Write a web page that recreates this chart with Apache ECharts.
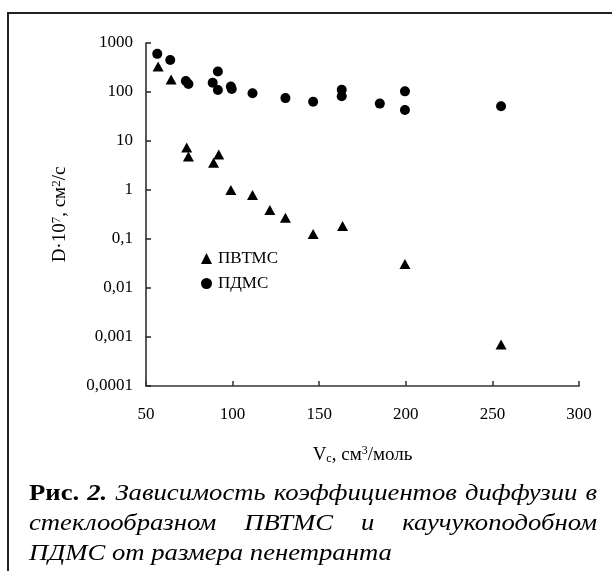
<!DOCTYPE html>
<html>
<head>
<meta charset="utf-8">
<script src="https://cdn.jsdelivr.net/npm/echarts@6/dist/echarts.min.js"></script>
<style>
  html, body { margin: 0; padding: 0; background: #fff; }
  #chart { width: 612px; height: 571px; }
</style>
</head>
<body>
<div id="chart"></div>
<script>
// ПВТМС (glassy) — V_c, cm3/mol and D*10^7, cm2/s
const pvtmsV = [57, 64.5, 73.5, 74.5, 89, 92, 99, 111.5, 121.5, 130.5, 146.5, 163.5, 199.5, 255]
const pvtmsD = [330, 180, 7.4, 4.8, 3.6, 5.3, 1.0, 0.79, 0.39, 0.27, 0.126, 0.184, 0.031, 0.0007]

// ПДМС (rubbery)
const pdmsV = [56.5, 64, 73, 74.5, 88.5, 91.5, 91.5, 99, 99.5, 111.5, 130.5, 146.5, 163, 163, 185, 199.5, 199.5, 255]
const pdmsD = [600, 450, 167, 146, 155, 263, 110, 130, 115, 94, 75, 63, 111, 82, 58, 103, 43, 51]

const xTicks = [50, 300, 50]            // min, max, step
const yTicks = [0.0001, 1000]           // log axis range

const serif = '"Liberation Serif", "Times New Roman", serif'

const chart = echarts.init(document.getElementById('chart'))

// caption lines, justified like the printed figure
const measureCtx = document.createElement('canvas').getContext('2d')
const capSize = 23
const capStretch = 1.16   // printed caption is a little wider than the font
const textW = (s, font) => { measureCtx.font = font; return measureCtx.measureText(s).width * capStretch }
const fIt = 'italic ' + capSize + 'px ' + serif
const fB = 'bold ' + capSize + 'px ' + serif
const fBI = 'italic bold ' + capSize + 'px ' + serif
const capLines = [
  { y: 494, justify: true, words: [['Рис.', fB], ['2.', fBI], ['Зависимость', fIt], ['коэффициентов', fIt], ['диффузии', fIt], ['в', fIt]] },
  { y: 524, justify: true, words: [['стеклообразном', fIt], ['ПВТМС', fIt], ['и', fIt], ['каучукоподобном', fIt]] },
  { y: 554, justify: false, words: [['ПДМС', fIt], ['от', fIt], ['размера', fIt], ['пенетранта', fIt]] }
]
const capLeft = 29, capRight = 597
const capGraphics = []
capLines.forEach(line => {
  const widths = line.words.map(w => textW(w[0], w[1]))
  const total = widths.reduce((a, b) => a + b, 0)
  const gap = line.justify ? (capRight - capLeft - total) / (line.words.length - 1) : textW(' ', fIt)
  let x = capLeft
  line.words.forEach((w, i) => {
    capGraphics.push({
      type: 'text', x: x, y: line.y, scaleX: capStretch,
      style: { text: w[0], font: w[1], fill: '#000', verticalAlign: 'middle' }
    })
    x += widths[i] + gap
  })
})

const option = {
  backgroundColor: '#fff',
  animation: false,
  textStyle: { fontFamily: serif, color: '#000' },
  grid: { left: 146, top: 43, width: 433, height: 343, containLabel: false },
  legend: {
    orient: 'vertical', left: 196, top: 245, itemWidth: 11, itemHeight: 11, itemGap: 8,
    textStyle: { fontFamily: serif, fontSize: 17, color: '#000', padding: [0, 0, 0, 1] },
    data: [{ name: 'ПВТМС', icon: 'triangle' }, { name: 'ПДМС', icon: 'circle' }]
  },
  xAxis: {
    type: 'value', min: xTicks[0], max: xTicks[1], interval: xTicks[2],
    name: '{a|V}{sub|c}{a|, см}{sup|3}{a|/моль}', nameLocation: 'middle', nameGap: 59,
    nameTextStyle: {
      rich: {
        a: { fontFamily: serif, fontSize: 19, color: '#000' },
        sub: { fontFamily: serif, fontSize: 12, color: '#000', verticalAlign: 'bottom', padding: [7, 0, 0, 0] },
        sup: { fontFamily: serif, fontSize: 12, color: '#000', verticalAlign: 'top', padding: [0, 0, 8, 0] }
      }
    },
    axisLine: { lineStyle: { color: '#666', width: 2 } },
    axisTick: { inside: true, length: 5, lineStyle: { color: '#333', width: 1.5 } },
    axisLabel: { fontFamily: serif, fontSize: 17, color: '#000', margin: 20 },
    splitLine: { show: false }
  },
  yAxis: {
    type: 'log', logBase: 10, min: yTicks[0], max: yTicks[1],
    name: '{a|D·10}{sup|7}{a|, см}{sup|2}{a|/с}', nameLocation: 'middle', nameGap: 75, nameRotate: 90,
    nameTextStyle: {
      rich: {
        a: { fontFamily: serif, fontSize: 19, color: '#000' },
        sup: { fontFamily: serif, fontSize: 13, color: '#000', verticalAlign: 'top', padding: [0, 0, 8, 0] }
      }
    },
    axisLine: { onZero: false, lineStyle: { color: '#222', width: 1.5 } },
    axisTick: { inside: true, length: 5, lineStyle: { color: '#222', width: 1.5 } },
    axisLabel: { fontFamily: serif, fontSize: 17, color: '#000', margin: 13, formatter: v => String(v).replace('.', ',') },
    splitLine: { show: false }
  },
  series: [
    {
      name: 'ПВТМС', type: 'scatter', symbol: 'triangle', symbolSize: [11, 10],
      itemStyle: { color: '#000', opacity: 1 },
      data: pvtmsV.map((v, i) => [v, pvtmsD[i]])
    },
    {
      name: 'ПДМС', type: 'scatter', symbol: 'circle', symbolSize: 10,
      itemStyle: { color: '#000', opacity: 1 },
      data: pdmsV.map((v, i) => [v, pdmsD[i]])
    }
  ],
  graphic: [
    // page frame around figure
    { type: 'rect', shape: { x: 8, y: 13, width: 640, height: 600 }, style: { fill: null, stroke: '#222', lineWidth: 2 }, silent: true },
    ...capGraphics
  ]
}

chart.setOption(option)
window.addEventListener('resize', () => chart.resize())
</script>
</body>
</html>
